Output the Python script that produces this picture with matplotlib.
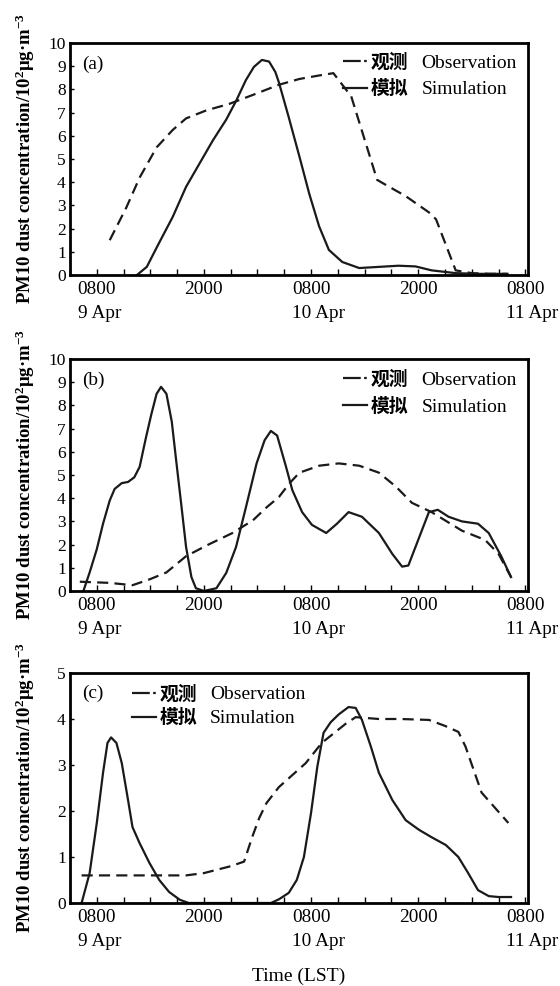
import matplotlib
matplotlib.use("Agg")
import matplotlib.pyplot as plt
from matplotlib.transforms import blended_transform_factory

plt.rcParams['font.family'] = ['Liberation Serif', 'Noto Sans CJK SC']
plt.rcParams['mathtext.fontset'] = 'custom'
plt.rcParams['mathtext.rm'] = 'Liberation Serif'
plt.rcParams['mathtext.bf'] = 'Liberation Serif:bold'
plt.rcParams['mathtext.default'] = 'regular'

# ---- data (hours since 0800 LST 9 Apr) ----
tick_hours = [0, 12, 24, 36, 48]
tick_times = ["0800", "2000", "0800", "2000", "0800"]
tick_dates = ["9 Apr", "", "10 Apr", "", "11 Apr"]

a_obs_h = [1.45, 3.3, 4.8, 6.7, 8.5, 10, 12.3, 14.8, 17.4, 20.4, 22.7, 24.9, 26.5, 28.5, 31.4, 32.3, 34.6, 37.2, 38, 40.2, 42, 44, 46]
a_obs_v = [1.5, 2.9, 4.2, 5.5, 6.25, 6.75, 7.1, 7.37, 7.75, 8.2, 8.45, 8.6, 8.7, 7.7, 4.1, 3.9, 3.4, 2.7, 2.4, 0.2, 0.08, 0.05, 0.05]
a_sim_h = [4.5, 5.6, 7, 8.5, 10, 11.5, 13, 14.5, 15.6, 16.7, 17.6, 18.5, 19.3, 20, 20.4, 21.5, 22.7, 23.8, 24.9, 26, 27.5, 29.4, 31.6, 33.8, 35.7, 37.5, 40.2, 42.7, 46]
a_sim_v = [0, 0.35, 1.4, 2.5, 3.8, 4.8, 5.8, 6.7, 7.5, 8.4, 8.97, 9.27, 9.2, 8.75, 8.3, 6.8, 5.1, 3.5, 2.1, 1.08, 0.56, 0.3, 0.35, 0.4, 0.37, 0.2, 0.08, 0.05, 0.05]

b_obs_h = [-1.9, 1.45, 4, 5.9, 7.8, 10, 12.5, 15.2, 17.5, 19, 20.4, 21.6, 22.7, 24.9, 27.1, 29.4, 31.6, 33.5, 35.3, 37.5, 40.9, 43.5, 45, 46.4]
b_obs_v = [0.4, 0.35, 0.25, 0.5, 0.8, 1.5, 2.0, 2.5, 3.05, 3.6, 4.05, 4.65, 5.1, 5.4, 5.5, 5.4, 5.1, 4.5, 3.8, 3.4, 2.6, 2.2, 1.6, 0.6]
b_sim_h = [-1.5, -0.8, 0, 0.7, 1.45, 2, 2.8, 3.5, 4.2, 4.8, 5.5, 6.1, 6.7, 7.2, 7.8, 8.4, 8.9, 9.5, 10, 10.6, 11.1, 12, 13.4, 14.5, 15.6, 16.7, 17.9, 18.8, 19.5, 20.2, 21.2, 21.9, 23, 24.1, 25.7, 26.9, 28.2, 29.7, 31.6, 33.1, 34.2, 34.9, 36, 37.2, 38.2, 39.4, 40.9, 42.7, 43.9, 45.3, 46.4]
b_sim_v = [0, 0.8, 1.8, 2.9, 3.9, 4.4, 4.65, 4.7, 4.9, 5.35, 6.6, 7.6, 8.5, 8.8, 8.5, 7.3, 5.6, 3.6, 1.9, 0.6, 0.12, 0, 0.12, 0.78, 1.9, 3.6, 5.5, 6.5, 6.9, 6.7, 5.35, 4.35, 3.4, 2.85, 2.5, 2.9, 3.4, 3.2, 2.5, 1.6, 1.05, 1.1, 2.2, 3.4, 3.5, 3.2, 3.0, 2.9, 2.5, 1.5, 0.6]

c_obs_h = [-1.7, 2, 5, 7.8, 10, 12, 13.4, 15, 16.5, 17.4, 18.2, 19, 20.4, 23.4, 25.2, 27.9, 29, 31.6, 34, 37.2, 39, 40.5, 41.3, 43.1, 46.1]
c_obs_v = [0.6, 0.6, 0.6, 0.6, 0.6, 0.65, 0.72, 0.8, 0.9, 1.43, 1.85, 2.17, 2.52, 3.04, 3.48, 3.9, 4.04, 4.0, 4.0, 3.98, 3.85, 3.72, 3.4, 2.4, 1.74]
c_sim_h = [-1.7, -0.8, 0, 0.7, 1.2, 1.6, 2.2, 2.8, 3.5, 4, 4.8, 5.9, 7, 8.1, 9.3, 10.3, 19.5, 20.4, 21.5, 22.4, 23.2, 24, 24.7, 25.4, 26.2, 27.1, 28.2, 29, 29.7, 30.7, 31.6, 33.1, 34.6, 36.1, 37.5, 39.1, 40.5, 41.6, 42.7, 43.9, 45, 46.4]
c_sim_v = [0, 0.65, 1.74, 2.83, 3.48, 3.6, 3.48, 3.04, 2.24, 1.65, 1.3, 0.87, 0.5, 0.24, 0.07, 0, 0, 0.08, 0.22, 0.5, 1.0, 1.96, 2.96, 3.7, 3.93, 4.1, 4.26, 4.24, 3.98, 3.4, 2.83, 2.24, 1.8, 1.59, 1.43, 1.26, 1.0, 0.65, 0.28, 0.15, 0.13, 0.13]

panel_labels = ["(a)", "(b)", "(c)"]
ymaxes = [10, 10, 5]
legend_cn = ["观测", "模拟"]
legend_en = ["Observation", "Simulation"]
ylabel = "PM10 dust concentration/10$^{2}$μg·m$^{-3}$"

W, H = 560, 986
fig = plt.figure(figsize=(W / 100, H / 100), dpi=100)

def frac(left, top, right, bottom):
    return [left / W, 1 - bottom / H, (right - left) / W, (bottom - top) / H]

rects = [frac(70, 43, 528, 275), frac(70, 359, 528, 591), frac(70, 673, 528, 903)]
series = [(a_obs_h, a_obs_v, a_sim_h, a_sim_v),
          (b_obs_h, b_obs_v, b_sim_h, b_sim_v),
          (c_obs_h, c_obs_v, c_sim_h, c_sim_v)]
legend_anchor = [(0.579, 0.991), (0.579, 0.985), (0.118, 0.983)]
legend_spacing = [0.41, 0.41, 0.26]

FSX = 13.9
FSY = 12.5
FSL = 14
INK = '#1a1a1a'
legends = []
for i, (rect, (oh, ov, sh, sv)) in enumerate(zip(rects, series)):
    ax = fig.add_axes(rect)
    lo, = ax.plot(oh, ov, color=INK, lw=1.6, linestyle=(0, (5, 2.8)))
    ls, = ax.plot(sh, sv, color=INK, lw=1.6)
    ax.set_xlim(-3, 48.3)
    ax.set_ylim(0, ymaxes[i])
    ax.set_yticks(range(0, ymaxes[i] + 1))
    ax.set_xticks(tick_hours)
    ax.set_xticklabels(tick_times)
    ax.set_xticks([h for h in range(-3, 49, 3) if h not in tick_hours], minor=True)
    ax.tick_params(axis='both', which='both', direction='in', width=1.0)
    ax.tick_params(axis='x', which='major', length=4, pad=4.5, labelsize=FSX)
    ax.tick_params(axis='x', which='minor', length=4)
    ax.tick_params(axis='y', which='major', length=3, pad=3, labelsize=FSY)
    for sp in ax.spines.values():
        sp.set_linewidth(2.0)
    trans = blended_transform_factory(ax.transData, ax.transAxes)
    for h, d in zip(tick_hours, tick_dates):
        if d:
            ax.annotate(d, xy=(h, 0), xycoords=trans, xytext=(-13.7, -21.5),
                        textcoords='offset points', ha='left', va='top', fontsize=FSX,
                        annotation_clip=False)
    ax.text(0.026, 0.91, panel_labels[i], transform=ax.transAxes, ha='left', va='center', fontsize=FSX)
    ax.set_ylabel(ylabel, fontsize=13.5, fontweight='bold')
    ax.yaxis.set_label_coords(-0.073, 0.5)

    leg = ax.legend([lo, ls], legend_cn, loc='upper left', bbox_to_anchor=legend_anchor[i],
                    frameon=False, handlelength=1.3, handletextpad=0.2, borderpad=0.4,
                    borderaxespad=0.0, labelspacing=legend_spacing[i],
                    prop={'family': ['Noto Sans CJK SC'], 'weight': 'bold', 'size': 13.5})
    leg.legend_handles[0].set_linestyle((0, (8, 1.5, 1.2, 5)))
    legends.append((ax, leg))
    if i == 2:
        ax.set_xlabel("Time (LST)", fontsize=FSL, labelpad=30)

fig.canvas.draw()
for ax, leg in legends:
    for t, en in zip(leg.get_texts(), legend_en):
        w = t.get_window_extent().width
        ax.annotate(en, xy=(w, 0), xycoords=t.get_transform(), xytext=(9.4, 0),
                    textcoords='offset points', ha='left', va='baseline', fontsize=FSL,
                    family=['Liberation Serif'], annotation_clip=False)

fig.savefig("out.png", dpi=100)
